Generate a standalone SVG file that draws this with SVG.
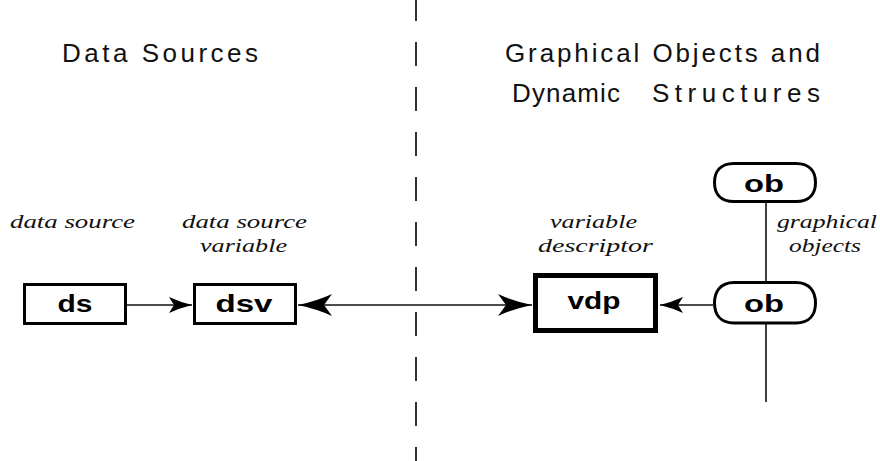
<svg xmlns="http://www.w3.org/2000/svg" width="880" height="461" viewBox="0 0 880 461">
<style>
.hdr{font-family:"Liberation Sans",Arial,sans-serif;font-size:26px;fill:#111;}
.lbl{font-family:"Liberation Serif","Times New Roman",serif;font-style:italic;font-size:18px;fill:#111;text-anchor:middle;}
.nm{font-family:"Liberation Sans",Arial,sans-serif;font-weight:bold;font-size:24px;fill:#000;text-anchor:middle;}
.box{fill:#fff;stroke:#000;stroke-width:3;}
.boxb{fill:#fff;stroke:#000;stroke-width:5;}
.ob{fill:#fff;stroke:#000;stroke-width:3;stroke-linejoin:round;}
.ln{fill:none;stroke:#111;stroke-width:1.6;}
.dash{fill:none;stroke:#333;stroke-width:2;stroke-dasharray:24 21;}
</style>
<defs>
<marker id="big" markerUnits="userSpaceOnUse" markerWidth="38" markerHeight="24" refX="36" refY="11" orient="auto-start-reverse" overflow="visible">
<path d="M36,11 Q17,7 2,0 L10,11 L2,22 Q17,15 36,11 Z" fill="#000"/>
</marker>
<marker id="small" markerUnits="userSpaceOnUse" markerWidth="26" markerHeight="18" refX="24" refY="8" orient="auto" overflow="visible">
<path d="M24,8 Q12,5 1,0 L6,8 L1,16 Q12,11 24,8 Z" fill="#000"/>
</marker>
</defs>

<g id="divider">
<line class="dash" x1="416" y1="-3" x2="416" y2="461"/>
</g>

<g id="headers">
<text class="hdr" x="62" y="62" textLength="196" lengthAdjust="spacing">Data Sources</text>
<text class="hdr" x="505" y="62" textLength="315" lengthAdjust="spacing">Graphical Objects and</text>
<text class="hdr" y="102"><tspan x="512" textLength="108" lengthAdjust="spacing">Dynamic</tspan><tspan x="652" textLength="168" lengthAdjust="spacing">Structures</tspan></text>
</g>

<g id="connectors">
<line class="ln" x1="127" y1="305" x2="192" y2="305" marker-end="url(#small)"/>
<line class="ln" x1="298" y1="305" x2="532" y2="305" marker-start="url(#big)" marker-end="url(#big)"/>
<line class="ln" x1="713" y1="305" x2="660" y2="305" marker-end="url(#small)"/>
<line class="ln" x1="766" y1="203" x2="766" y2="282"/>
<line class="ln" x1="766" y1="324" x2="766" y2="402"/>
</g>

<g id="ds">
<rect class="box" x="24.5" y="284.5" width="101" height="39"/>
<text class="nm" x="75" y="312" textLength="35" lengthAdjust="spacingAndGlyphs">ds</text>
<text class="lbl" x="72.5" y="228" textLength="125" lengthAdjust="spacingAndGlyphs">data source</text>
</g>

<g id="dsv">
<rect class="box" x="194.5" y="284.5" width="101" height="39"/>
<text class="nm" x="244" y="312" textLength="57" lengthAdjust="spacingAndGlyphs">dsv</text>
<text class="lbl" x="244.5" y="228" textLength="125" lengthAdjust="spacingAndGlyphs">data source</text>
<text class="lbl" x="243.5" y="252" textLength="87" lengthAdjust="spacingAndGlyphs">variable</text>
</g>

<g id="vdp">
<rect class="boxb" x="535.5" y="275.5" width="120" height="55"/>
<text class="nm" x="594" y="309" textLength="53" lengthAdjust="spacingAndGlyphs">vdp</text>
<text class="lbl" x="593.5" y="228" textLength="87" lengthAdjust="spacingAndGlyphs">variable</text>
<text class="lbl" x="595.5" y="252" textLength="115" lengthAdjust="spacingAndGlyphs">descriptor</text>
</g>

<g id="ob-top">
<path class="ob" d="M734,163.5 H796 C810,163.5 815.5,172 815.5,182.5 C815.5,193 810,201.5 796,201.5 H734 C720,201.5 714.5,193 714.5,182.5 C714.5,172 720,163.5 734,163.5 Z"/>
<text class="nm" x="764" y="192" textLength="40" lengthAdjust="spacingAndGlyphs">ob</text>
</g>

<g id="ob-bottom">
<path class="ob" d="M734,282.5 H796 C810,282.5 815.5,292 815.5,303 C815.5,314 810,323 796,323 H734 C720,323 714.5,314 714.5,303 C714.5,292 720,282.5 734,282.5 Z"/>
<text class="nm" x="764" y="312" textLength="40" lengthAdjust="spacingAndGlyphs">ob</text>
</g>

<g id="graphical-objects-label">
<text class="lbl" x="827" y="228" textLength="100" lengthAdjust="spacingAndGlyphs">graphical</text>
<text class="lbl" x="825" y="252" textLength="72" lengthAdjust="spacingAndGlyphs">objects</text>
</g>
</svg>
